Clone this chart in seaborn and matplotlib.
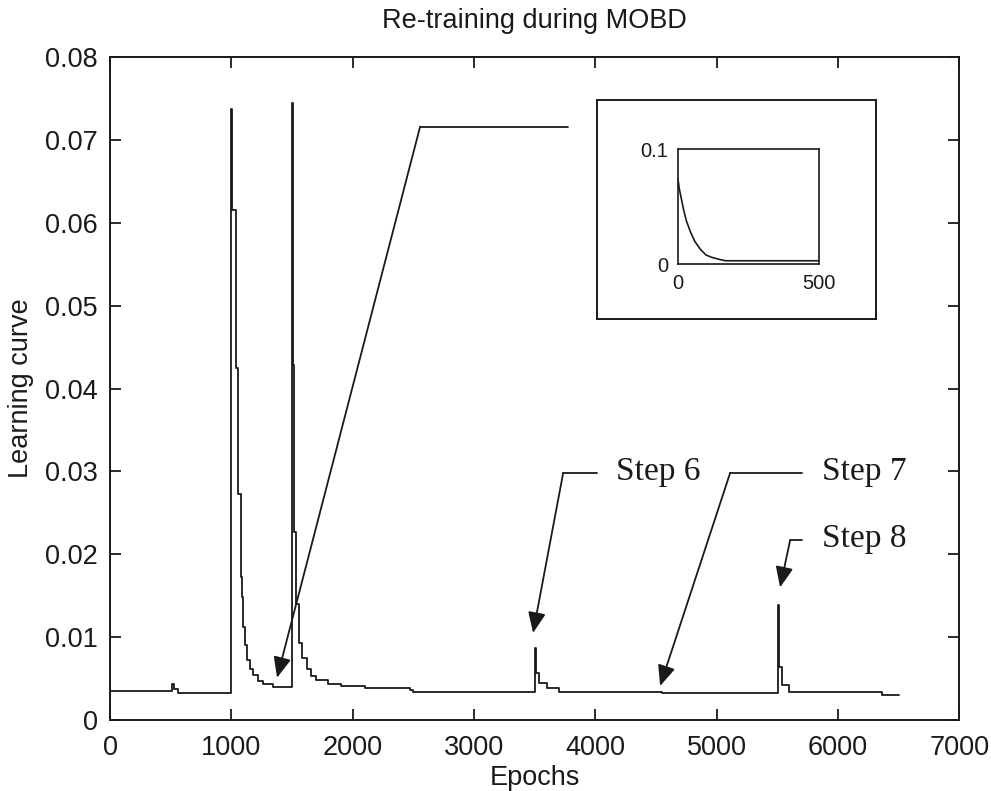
import numpy as np
import pandas as pd
import matplotlib
matplotlib.use("Agg")
import matplotlib.pyplot as plt
import seaborn as sns

# Learning-curve values recorded during re-training (epoch, error)
epochs = [0, 510, 530, 560, 1000, 1008, 1040, 1058, 1080, 1090, 1100, 1115, 1130,
          1150, 1180, 1220, 1262, 1345, 1500, 1506, 1520, 1535, 1560, 1585, 1620,
          1660, 1700, 1800, 1900, 2100, 2470, 2500, 3500, 3512, 3540, 3600, 3700,
          4550, 5505, 5515, 5540, 5600, 6360, 6500]
error = [0.0035, 0.0043, 0.0037, 0.0033, 0.0737, 0.0615, 0.0425, 0.0273, 0.0172,
         0.0148, 0.0112, 0.0090, 0.0072, 0.0062, 0.0054, 0.0047, 0.0043, 0.0040,
         0.0745, 0.0428, 0.0227, 0.0140, 0.0093, 0.0075, 0.0062, 0.0053, 0.0048,
         0.0043, 0.0041, 0.0039, 0.0036, 0.0034, 0.0087, 0.0057, 0.0045, 0.0038,
         0.0034, 0.0032, 0.0139, 0.0064, 0.0042, 0.0034, 0.0030, 0.0030]

# First 500 epochs of the initial training run (inset)
inset_epochs = [0, 5, 10, 20, 30, 45, 60, 80, 100, 120, 150, 170, 300, 500]
inset_error = [0.075, 0.066, 0.060, 0.048, 0.038, 0.028, 0.020, 0.013, 0.008,
               0.006, 0.004, 0.003, 0.003, 0.003]

# Callouts: label, label anchor, elbow, arrow tip (data coordinates)
step_labels = ["Step 6", "Step 7", "Step 8"]
label_pos = [(4170, 0.0299), (5870, 0.0299), (5870, 0.0219)]
line_start = [(4015, 0.0298), (5705, 0.0298), (5705, 0.0217)]
elbow = [(3735, 0.0298), (5111, 0.0298), (5606, 0.0217)]
tip = [(3487, 0.0105), (4534, 0.0041), (5523, 0.0160)]

# Pointer towards the region shown in the inset
inset_line_start = (3776, 0.0716)
inset_elbow = (2556, 0.0716)
inset_tip = (1377, 0.0051)

sns.set_theme(style="ticks")
plt.rcParams["font.family"] = ["Liberation Sans", "DejaVu Sans"]
ink = "#1a1a1a"

fig = plt.figure(figsize=(9.91, 7.91), dpi=100)
ax = fig.add_axes([0.111, 0.0898, 0.857, 0.838])

df = pd.DataFrame({"Epochs": epochs, "Learning curve": error})
sns.lineplot(data=df, x="Epochs", y="Learning curve", ax=ax, color=ink,
             linewidth=1.3, drawstyle="steps-post", estimator=None, zorder=1)

ax.set_xlim(0, 7000)
ax.set_ylim(0, 0.08)
ax.set_xticks(np.arange(0, 7001, 1000))
ax.set_yticks(np.arange(0, 0.0801, 0.01))
ax.set_yticklabels(["0"] + [f"{v:.2f}" for v in np.arange(0.01, 0.0801, 0.01)])
ax.tick_params(which="major", direction="in", length=8, width=1.3, color=ink,
               labelcolor=ink, labelsize=19.5, top=True, right=True,
               bottom=True, left=True, pad=9)
ax.tick_params(axis="x", pad=11)
for s in ax.spines.values():
    s.set_color(ink)
    s.set_linewidth(1.4)
ax.set_xlabel("Epochs", fontsize=19.5, color=ink, labelpad=3)
ax.set_ylabel("Learning curve", fontsize=19.5, color=ink, labelpad=8)
ax.set_title("Re-training during MOBD", fontsize=19.5, color=ink, pad=21)

arrow_kw = dict(arrowstyle="-|>,head_length=0.7,head_width=0.3", color=ink,
                lw=1.3, mutation_scale=18, shrinkA=0, shrinkB=0)

for lab, lp, ls, el, tp in zip(step_labels, label_pos, line_start, elbow, tip):
    ax.plot([ls[0], el[0]], [ls[1], el[1]], color=ink, lw=1.3)
    ax.annotate("", xy=tp, xytext=el, arrowprops=arrow_kw)
    ax.text(lp[0], lp[1], lab, fontsize=24, family=["Liberation Serif", "DejaVu Serif"],
            color=ink, va="center", ha="left")

ax.plot([inset_line_start[0], inset_elbow[0]], [inset_line_start[1], inset_elbow[1]],
        color=ink, lw=1.3)
ax.annotate("", xy=inset_tip, xytext=inset_elbow, arrowprops=arrow_kw)

# Framed inset with the initial training curve
frame = fig.add_axes([0.602, 0.597, 0.282, 0.277])
frame.set_xticks([])
frame.set_yticks([])
for s in frame.spines.values():
    s.set_color(ink)
    s.set_linewidth(1.4)

inset = fig.add_axes([0.684, 0.666, 0.142, 0.145])
sns.lineplot(x=inset_epochs, y=inset_error, ax=inset, color=ink, linewidth=1.2,
             estimator=None)
inset.set_xlim(0, 500)
inset.set_ylim(0, 0.1)
inset.set_xticks([0, 500])
inset.set_yticks([0, 0.1])
inset.set_yticklabels(["0", "0.1"])
inset.tick_params(length=0, labelsize=14.5, labelcolor=ink, pad=7)
for s in inset.spines.values():
    s.set_color(ink)
    s.set_linewidth(1.2)

fig.savefig("out.png", dpi=100, facecolor="white")
